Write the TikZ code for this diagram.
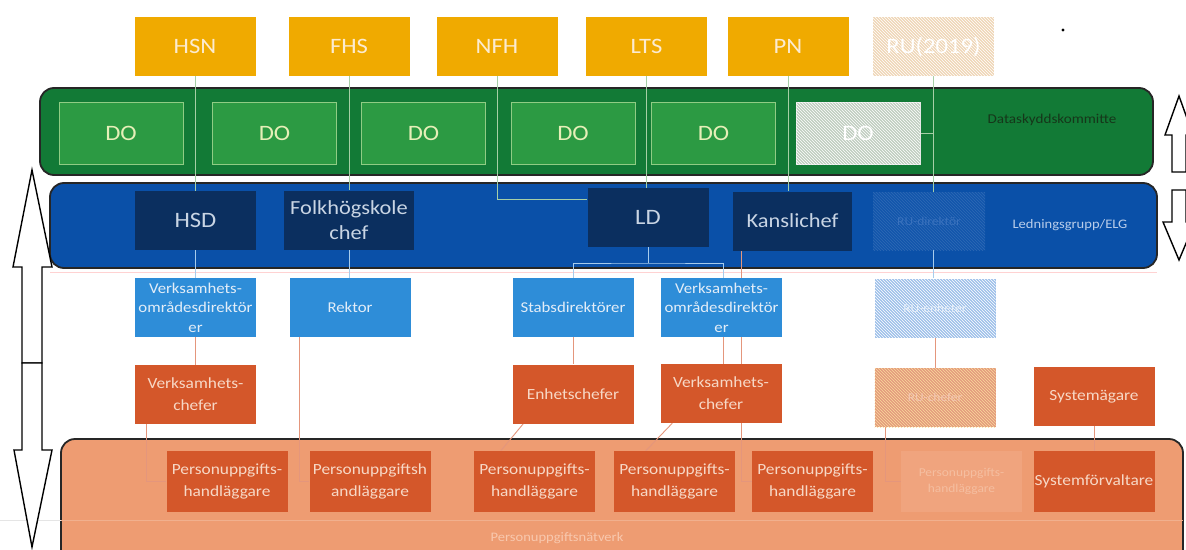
\documentclass[tikz,border=0pt]{standalone}
\usepackage{fontspec}
\setmainfont{Carlito}[FakeStretch=1.12]
\usetikzlibrary{patterns,calc}

\pgfdeclarelayer{bands}
\pgfdeclarelayer{links}
\pgfsetlayers{bands,links,main}

\definecolor{yel}{HTML}{F0AA00}
\definecolor{yeltext}{HTML}{FCEBD0}
\definecolor{rufill}{HTML}{EFD6B6}
\definecolor{grnband}{HTML}{127A36}
\definecolor{grnbox}{HTML}{2C9A43}
\definecolor{grnedge}{HTML}{90CC84}
\definecolor{dotext}{HTML}{E6EFB8}
\definecolor{dofade}{HTML}{BFCDBF}
\definecolor{dsktext}{HTML}{16361A}
\definecolor{bluband}{HTML}{0A50A8}
\definecolor{navy}{HTML}{0B2F5F}
\definecolor{navytext}{HTML}{C9D5E4}
\definecolor{rubfill}{HTML}{1256AC}
\definecolor{rubtext}{HTML}{3A72BE}
\definecolor{elgtext}{HTML}{B9CDEA}
\definecolor{lblue}{HTML}{2E8DD8}
\definecolor{lbluetext}{HTML}{E2EDF8}
\definecolor{lbfade}{HTML}{9EC0EA}
\definecolor{lbfadetext}{HTML}{E6EFFA}
\definecolor{org}{HTML}{D4572A}
\definecolor{orgtext}{HTML}{F7D8C6}
\definecolor{orgfade}{HTML}{E49A7E}
\definecolor{orgfadetext}{HTML}{F3C7B2}
\definecolor{orgband}{HTML}{EE9C72}
\definecolor{pfade}{HTML}{F0A47E}
\definecolor{pfadetext}{HTML}{F5BEA0}
\definecolor{nettext}{HTML}{F8C8AE}
\definecolor{glink}{HTML}{A6CFA6}
\definecolor{blink}{HTML}{A8CCEC}
\definecolor{olink}{HTML}{E4967C}

\tikzset{
  box/.style={rectangle, inner sep=0pt, align=center,
    minimum width=121pt, minimum height=59pt},
  ybox/.style={box, fill=yel, text=yeltext, font=\fontsize{22}{24}\selectfont},
  dobox/.style={box, minimum width=124pt, minimum height=62pt, fill=grnbox,
    draw=grnedge, line width=0.8pt, text=dotext, font=\fontsize{22}{24}\selectfont},
  nbox/.style={box, fill=navy, text=navytext, font=\fontsize{22}{24}\selectfont},
  lbbox/.style={box, fill=lblue, text=lbluetext, font=\fontsize{15}{19.5}\selectfont},
  obox/.style={box, fill=org, text=orgtext, font=\fontsize{15.5}{22}\selectfont},
  band/.style={rounded corners=14pt, draw=black!85, line width=1.8pt},
  hatch/.style={postaction={pattern=north west lines, pattern color=#1}},
  hatch/.default=white,
  glk/.style={draw=glink, line width=0.9pt},
  blk/.style={draw=blink, line width=0.9pt},
  olk/.style={draw=olink, line width=0.9pt},
  sidearrow/.style={fill=white, draw=black, line width=1.4pt, line join=miter},
}

\begin{document}
\begin{tikzpicture}[x=1pt, y=-1pt]
\useasboundingbox (0,0) rectangle (1186,549);

% the three coloured layers of the organisation
\begin{pgfonlayer}{bands}
  \fill[white] (0,0) rectangle (1186,549);
  \draw[band, fill=grnband] (40,88) rectangle (1153,175);
  \draw[band, fill=bluband] (50,183) rectangle (1157,268);
  \draw[band, fill=orgband] (61,439) rectangle (1183,590);
\end{pgfonlayer}

% schools and units
\node[ybox] (hsn) at (195,46.5) {HSN};
\node[ybox] (fhs) at (349,46.5) {FHS};
\node[ybox] (nfh) at (497,46.5) {NFH};
\node[ybox] (lts) at (646.5,46.5) {LTS};
\node[ybox] (pn)  at (788,46.5) {PN};
\node[ybox, fill=rufill, hatch, text=white] (ru) at (933.5,46.5) {RU(2019)};
\fill (1063,30) circle (1.6);

% data protection officers
\node[dobox] (do1) at (121,133) {DO};
\node[dobox] (do2) at (274.5,133) {DO};
\node[dobox] (do3) at (423.5,133) {DO};
\node[dobox] (do4) at (573,133) {DO};
\node[dobox] (do5) at (713.5,133) {DO};
\node[dobox, fill=dofade, draw=white!80!gray, hatch, text=white] (do6) at (858,133) {DO};
\node[font=\fontsize{13.5}{14}\selectfont, text=dsktext] (dsk) at (1052,120) {Dataskyddskommitte};

% management group
\node[nbox] (hsd) at (195.5,220.5) {HSD};
\node[nbox, minimum width=130pt, font=\fontsize{20}{25}\selectfont] (fhc) at (349,220) {Folkhögskole\\chef};
\node[nbox] (ld) at (648,217.5) {LD};
\node[nbox, minimum width=119pt, font=\fontsize{20}{22}\selectfont] (kan) at (792.5,221) {Kanslichef};
\node[box, minimum width=112pt, minimum height=58pt, fill=rubfill,
  hatch=bluband!85!white, text=rubtext, font=\fontsize{12}{14}\selectfont] (rub) at (929,221) {RU-direktör};
\node[font=\fontsize{13}{14}\selectfont, text=elgtext] (elg) at (1070,225) {Ledningsgrupp/ELG};

% directors
\node[lbbox] (vod1) at (195.5,307.5) {Verksamhets-\\områdesdirektör\\er};
\node[lbbox] (rek)  at (350,307.5) {Rektor};
\node[lbbox] (sta)  at (573,307.5) {Stabsdirektörer};
\node[lbbox] (vod2) at (721.5,307.5) {Verksamhets-\\områdesdirektör\\er};
\node[lbbox, fill=lbfade, hatch, text=lbfadetext, font=\fontsize{12}{14}\selectfont] (rulb) at (935,308) {RU-enheter};

% managers
\node[obox] (vc1)  at (195.5,394.5) {Verksamhets-\\chefer};
\node[obox] (enh)  at (573,394) {Enhetschefer};
\node[obox] (vc2)  at (721,393.5) {Verksamhets-\\chefer};
\node[obox, fill=orgfade, hatch=yel!40!white, text=orgfadetext, font=\fontsize{12}{14}\selectfont] (ruob) at (935,397.5) {RU-chefer};
\node[obox] (sag)  at (1094,396.5) {Systemägare};

% personal data network
\node[obox, minimum height=61pt] (p1) at (227,481.5) {Personuppgifts-\\handläggare};
\node[obox, minimum height=61pt] (p2) at (370,481.5) {Personuppgiftsh\\andläggare};
\node[obox, minimum height=61pt] (p3) at (534.5,481.5) {Personuppgifts-\\handläggare};
\node[obox, minimum height=61pt] (p4) at (674.5,481.5) {Personuppgifts-\\handläggare};
\node[obox, minimum height=61pt] (p5) at (812.5,481.5) {Personuppgifts-\\handläggare};
\node[obox, minimum height=61pt, fill=pfade, text=pfadetext, font=\fontsize{12}{16}\selectfont] (pf) at (961.5,481.5) {Personuppgifts-\\handläggare};
\node[obox, minimum height=61pt] (sf) at (1094,481.5) {Systemförvaltare};
\node[font=\fontsize{13}{14}\selectfont, text=nettext] (net) at (557,538) {Personuppgiftsnätverk};

% side arrows
\draw[sidearrow] (32,170) -- (52,267) -- (42,267) -- (42,363) -- (22,363) -- (22,267) -- (13,267) -- cycle;
\draw[sidearrow] (22,363) -- (42,363) -- (42,450) -- (52,450) -- (32,547) -- (14,450) -- (22,450) -- cycle;
\draw[sidearrow] (1179,96) -- (1193,135) -- (1186,135) -- (1186,172) -- (1172,172) -- (1172,135) -- (1165,135) -- cycle;
\draw[sidearrow] (1172,190) -- (1186,190) -- (1186,222) -- (1195,222) -- (1179,260) -- (1163,222) -- (1172,222) -- cycle;

% connectors
\begin{pgfonlayer}{links}
  \draw[draw=pink!70!white, line width=0.8pt] (50,272) -- (1157,272);
  \draw[draw=black!10, line width=0.6pt] (0,520) -- (61,520);
  \draw[draw=orgband!80!white, line width=0.8pt] (61,520) -- (1183,520);

  \draw[glk] (hsn.south) -- (hsn.south |- hsd.north);
  \draw[glk] (fhs.south) -- (fhs.south |- fhc.north);
  \draw[glk] (nfh.south) |- ($(ld.north west)!0.2!(ld.south west)$);
  \draw[glk] (lts.south) -- (lts.south |- ld.north);
  \draw[glk] (pn.south) -- (pn.south |- kan.north);
  \draw[glk] (ru.south) -- (ru.south |- rub.north);
  \draw[glk] (do6.east) -- (do6.east -| ru.south);

  \coordinate (ldj) at (648,263);
  \draw[blk] (ld.south) -- (ldj);
  \draw[blk] (sta.north) |- (ldj) -| ([xshift=1.5pt]vod2.north);
  \draw[blk] (hsd.south) -- (hsd.south |- vod1.north);
  \draw[blk] (fhc.south) -- (fhc.south |- rek.north);
  \draw[blk] (ru.south |- rub.south) -- (ru.south |- rulb.north);

  \draw[olk] ([xshift=9pt]kan.south west) |- (p5.west);
  \draw[olk] (vod1.south) -- (vod1.south |- vc1.north);
  \draw[olk] ([xshift=12pt]vc1.south west) |- (p1.west);
  \draw[olk] ([xshift=10pt]rek.south west) |- (p2.west);
  \draw[olk] (sta.south) -- (enh.north);
  \draw[olk] ([xshift=11pt]enh.south west) -- ([xshift=27pt]p3.north west);
  \draw[olk] ([xshift=1.5pt]vod2.south) -- ([xshift=2pt]vc2.north);
  \draw[olk] ([xshift=12pt]vc2.south west) -- ([xshift=32pt]p4.north west);
  \draw[olk] (rulb.south) -- (ruob.north);
  \draw[olk] ([xshift=11pt]ruob.south west) |- (pf.west);
  \draw[olk] (sag.south) -- (sf.north);
\end{pgfonlayer}
\end{tikzpicture}
\end{document}
